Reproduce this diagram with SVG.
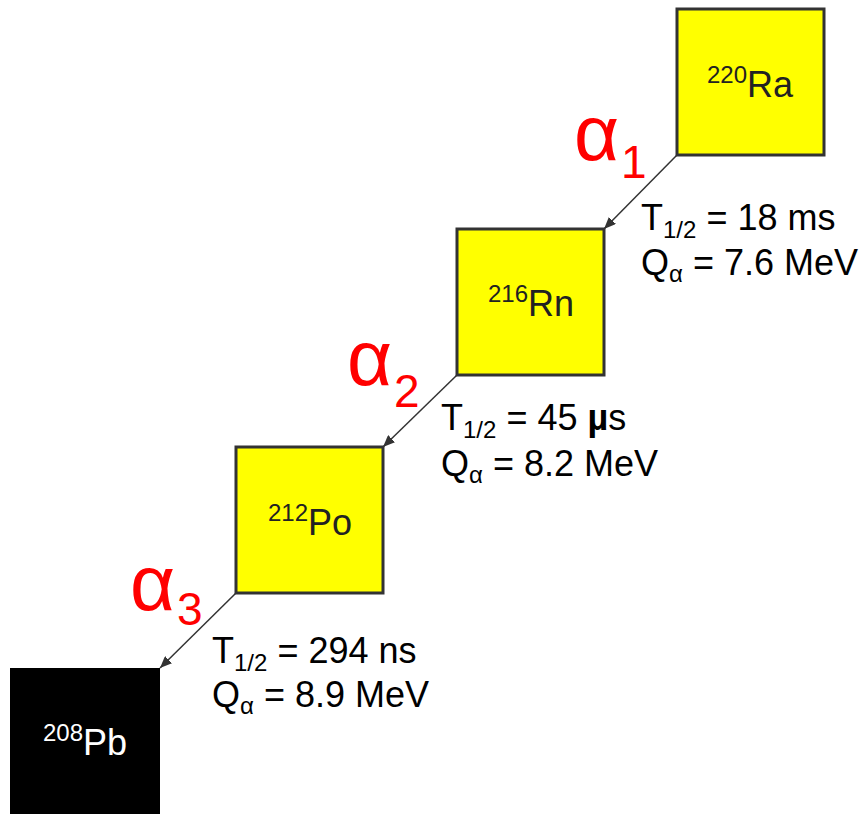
<svg xmlns="http://www.w3.org/2000/svg" width="863" height="814" viewBox="0 0 863 814">
<style>
.box{fill:#ffff00;stroke:#333;stroke-width:3}
.lbl{font-family:"Liberation Sans",Arial,sans-serif;font-size:36px;fill:#222;text-anchor:middle}
.info{font-family:"Liberation Sans",Arial,sans-serif;font-size:36px;fill:#000}
.sub{font-size:24px}
.alpha{font-family:"Liberation Sans",Arial,sans-serif;font-size:78px;fill:#ff0000}
.anum{font-family:"Liberation Sans",Arial,sans-serif;font-size:46px;fill:#ff0000}
.conn{stroke:#333;stroke-width:1.5;fill:none;marker-end:url(#ah)}
</style>
<defs>
<marker id="ah" viewBox="0 0 12 10" refX="12" refY="5" markerWidth="12" markerHeight="10" markerUnits="userSpaceOnUse" orient="auto">
<path d="M0,0 L12,5 L0,10 Z" fill="#333"/>
</marker>
</defs>
<rect width="863" height="814" fill="#fff"/>
<g id="connectors">
<line class="conn" x1="677" y1="155" x2="604" y2="229"/>
<line class="conn" x1="457" y1="375" x2="383" y2="447"/>
<line class="conn" x1="236" y1="593" x2="160" y2="668"/>
</g>
<g id="ra220">
<rect class="box" x="677" y="9" width="147" height="146"/>
<text class="lbl" x="750" y="97"><tspan class="sub" dy="-14">220</tspan><tspan dy="14">Ra</tspan></text>
</g>
<g id="rn216">
<rect class="box" x="457" y="229" width="147" height="146"/>
<text class="lbl" x="531" y="316"><tspan class="sub" dy="-14">216</tspan><tspan dy="14">Rn</tspan></text>
</g>
<g id="po212">
<rect class="box" x="236" y="447" width="147" height="146"/>
<text class="lbl" x="310" y="535"><tspan class="sub" dy="-14">212</tspan><tspan dy="14">Po</tspan></text>
</g>
<g id="pb208">
<rect x="10" y="668" width="150" height="146" fill="#000"/>
<text class="lbl" x="85" y="755" style="fill:#fff"><tspan class="sub" dy="-14">208</tspan><tspan dy="14">Pb</tspan></text>
</g>
<g id="decay1">
<text class="alpha" x="574" y="160">α</text>
<text class="anum" x="621" y="178">1</text>
<text class="info" x="641" y="230">T<tspan class="sub" dy="8">1/2</tspan><tspan dy="-8"> = 18 ms</tspan></text>
<text class="info" x="641" y="275">Q<tspan class="sub" dy="7">α</tspan><tspan dy="-7"> = 7.6 MeV</tspan></text>
</g>
<g id="decay2">
<text class="alpha" x="347" y="385">α</text>
<text class="anum" x="394" y="407">2</text>
<text class="info" x="441" y="430">T<tspan class="sub" dy="8">1/2</tspan><tspan dy="-8"> = 45 </tspan><tspan font-weight="bold">µ</tspan>s</text>
<text class="info" x="441" y="476">Q<tspan class="sub" dy="7">α</tspan><tspan dy="-7"> = 8.2 MeV</tspan></text>
</g>
<g id="decay3">
<text class="alpha" x="130" y="610">α</text>
<text class="anum" x="177" y="625">3</text>
<text class="info" x="212" y="663">T<tspan class="sub" dy="8">1/2</tspan><tspan dy="-8"> = 294 ns</tspan></text>
<text class="info" x="212" y="707">Q<tspan class="sub" dy="7">α</tspan><tspan dy="-7"> = 8.9 MeV</tspan></text>
</g>
</svg>
